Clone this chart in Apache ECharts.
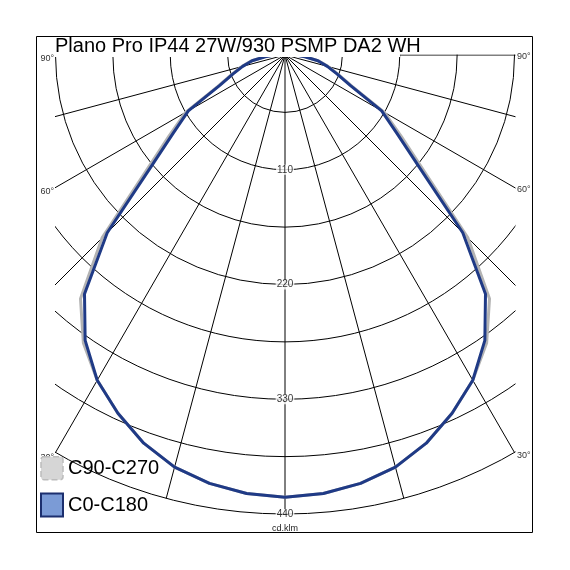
<!DOCTYPE html>
<html><head><meta charset="utf-8">
<script src="https://cdn.jsdelivr.net/npm/echarts@6/dist/echarts.min.js"></script>
<style>html,body{margin:0;padding:0;background:#fff}#c{width:570px;height:570px}</style>
</head><body><div id="c"></div>
<script>
// gamma angles (deg from nadir) and intensities (cd/klm)
const gammaAngles = [0,5,10,15,20,25,30,35,40,45,50,55,60,65,70,75,80,85,90,180];
const c0c180  = [424,422,417,409,396,379,360,334,299,241,169,131,107,69,53,42,32,19,10,0];
const c90c270 = [424,422,417,409,396,379,360,337,305,248,175,136,110,71,54,43,33,20,11,0];
const radiusTicks = [110,220,330,440];
const angleTickLabels = [90,60,30];
const seriesNames = ['C90-C270','C0-C180'];
const titleText = 'Plano Pro IP44 27W/930 PSMP DA2 WH';
const unitLabel = 'cd.klm';

const cx = 285, cy = 55, R = 459;
const clipL = 55, clipR = 515;
const FONT = '"Liberation Sans", Arial, sans-serif';

function fullCurve(vals){
  const pts = [];
  for (let i = gammaAngles.length - 1; i >= 0; i--) pts.push([vals[i], -gammaAngles[i]]);
  for (let i = 1; i < gammaAngles.length; i++) pts.push([vals[i], gammaAngles[i]]);
  return pts;
}

const chart = echarts.init(document.getElementById('c'), null, {renderer:'canvas'});

const graphics = [
  {type:'rect', z:100, shape:{x:0,y:0,width:570,height:54.5}, style:{fill:'#fff'}},
  {type:'rect', z:100, shape:{x:0,y:0,width:clipL,height:570}, style:{fill:'#fff'}},
  {type:'rect', z:100, shape:{x:clipR+0.5,y:0,width:60,height:570}, style:{fill:'#fff'}},
  {type:'rect', z:100, shape:{x:0,y:533,width:570,height:40}, style:{fill:'#fff'}},
  {type:'rect', z:101, shape:{x:clipL,y:37,width:345,height:20}, style:{fill:'#fff'}},
  {type:'rect', z:102, shape:{x:36.5,y:36.5,width:496,height:496}, style:{fill:null, stroke:'#000', lineWidth:1}},
  {type:'text', z:103, x:55, y:46, style:{text:titleText, font:'20px '+FONT, fill:'#000', textAlign:'left', textVerticalAlign:'middle'}},
  {type:'text', z:103, x:cx, y:529, style:{text:unitLabel, font:'9px '+FONT, fill:'#222', textAlign:'center', textVerticalAlign:'middle'}}
];
angleTickLabels.forEach(a => {
  const rad = a*Math.PI/180;
  const yInt = cy + (cx-clipL)*Math.cos(rad)/Math.sin(rad);
  graphics.push({type:'text', z:103, x:clipL-1, y:yInt+4, style:{text:a+'°', font:'9px '+FONT, fill:'#333', textAlign:'right', textVerticalAlign:'middle'}});
  graphics.push({type:'text', z:103, x:clipR+2, y:yInt+2, style:{text:a+'°', font:'9px '+FONT, fill:'#333', textAlign:'left', textVerticalAlign:'middle'}});
});

chart.setOption({
  animation:false,
  backgroundColor:'#fff',
  polar:{center:[cx,cy], radius:R},
  angleAxis:{
    type:'value', min:-180, max:180, interval:15, startAngle:90, clockwise:true,
    axisLine:{show:false}, axisTick:{show:false}, axisLabel:{show:false},
    splitLine:{show:true, lineStyle:{color:'#000', width:1}}
  },
  radiusAxis:{
    type:'value', min:0, max:440, interval:55,
    axisLine:{show:false}, axisTick:{show:false}, axisLabel:{show:false},
    splitLine:{show:true, lineStyle:{color:'#000', width:1}}
  },
  legend:{
    z:200, orient:'vertical', left:40, top:456, itemWidth:22, itemHeight:23, itemGap:12, padding:0,
    textStyle:{fontSize:20, fontFamily:FONT, color:'#000'},
    data:[
      {name:seriesNames[0], icon:'path://M3,0 H19 Q22,0 22,3 V20 Q22,23 19,23 H3 Q0,23 0,20 V3 Q0,0 3,0 Z',
        itemStyle:{color:'#d6d6d6', borderColor:'#bcbcbc', borderWidth:1.5, borderType:'dashed'}},
      {name:seriesNames[1], icon:'rect', itemStyle:{color:'#7b9bd6', borderColor:'#1c2f6e', borderWidth:2}}
    ]
  },
  series:[
    {name:seriesNames[0], type:'line', coordinateSystem:'polar', data:fullCurve(c90c270),
      symbol:'none', smooth:false, lineStyle:{color:'#b3b3b3', width:3}, itemStyle:{color:'#b3b3b3'}, z:3},
    {name:seriesNames[1], type:'line', coordinateSystem:'polar', data:fullCurve(c0c180),
      symbol:'none', smooth:false, lineStyle:{color:'#1f3a86', width:3}, itemStyle:{color:'#1f3a86'}, z:4},
    {name:'ticks', type:'scatter', coordinateSystem:'polar', data:radiusTicks.map(r=>[r,0]),
      symbol:'circle', symbolSize:1, itemStyle:{color:'rgba(0,0,0,0)'}, z:5, silent:true,
      label:{show:true, position:'inside', formatter:p=>String(p.value[0]), backgroundColor:'#fff', padding:[0,1],
        fontSize:10, fontFamily:FONT, color:'#000'}}
  ],
  graphic:{elements:graphics}
});
</script></body></html>
